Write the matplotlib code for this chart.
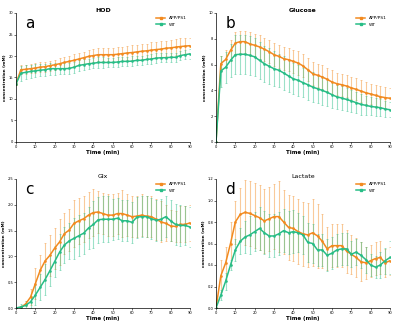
import matplotlib
matplotlib.use("Agg")
import matplotlib.pyplot as plt
import numpy as np

# time axis (min), one sample every 2.5 min
time_min = np.arange(0, 90.1, 2.5)

# HOD (mM)
hod_app = [13.5, 16.8, 16.9, 17.05, 17.2, 17.4, 17.5, 17.75, 17.95, 18.2, 18.5, 18.75,
           19.0, 19.3, 19.6, 19.9, 20.1, 20.3, 20.3, 20.3, 20.3, 20.4, 20.55, 20.7, 20.8,
           20.95, 21.1, 21.2, 21.35, 21.5, 21.6, 21.8, 21.9, 22.05, 22.2, 22.3, 22.4]
hod_app_err = [0.3, 1.0, 1.0, 1.1, 1.1, 1.1, 1.2, 1.2, 1.2, 1.3, 1.3, 1.3,
               1.4, 1.4, 1.4, 1.5, 1.5, 1.5, 1.5, 1.5, 1.6, 1.6, 1.6, 1.6, 1.7,
               1.7, 1.7, 1.7, 1.8, 1.8, 1.8, 1.8, 1.9, 1.9, 1.9, 1.9, 1.9]
hod_wt = [13.5, 16.0, 16.2, 16.4, 16.55, 16.7, 16.8, 17.05, 17.05, 17.05, 17.05, 17.1,
          17.4, 17.8, 18.0, 18.2, 18.3, 18.5, 18.5, 18.5, 18.5, 18.6, 18.75, 18.75, 18.8,
          19.0, 19.0, 19.2, 19.3, 19.5, 19.6, 19.6, 19.7, 19.7, 20.1, 20.3, 20.5]
hod_wt_err = [0.3, 1.7, 1.6, 1.5, 1.5, 1.4, 1.4, 1.4, 1.4, 1.3, 1.3, 1.3,
              1.3, 1.2, 1.2, 1.2, 1.2, 1.2, 1.2, 1.1, 1.1, 1.1, 1.1, 1.1, 1.1,
              1.1, 1.1, 1.1, 1.1, 1.1, 1.1, 1.1, 1.1, 1.1, 1.1, 1.1, 1.1]

# Glucose (mM)
glc_app = [0.0, 6.07, 6.4, 7.1, 7.67, 7.78, 7.78, 7.6, 7.5, 7.37, 7.2, 7.0, 6.77,
           6.64, 6.46, 6.38, 6.25, 6.12, 5.9, 5.6, 5.3, 5.17, 5.04, 4.86, 4.65, 4.52,
           4.44, 4.34, 4.2, 4.08, 3.95, 3.82, 3.72, 3.62, 3.51, 3.44, 3.39]
glc_app_err = [0.0, 0.6, 0.7, 0.8, 0.85, 0.85, 0.85, 0.9, 0.9, 0.9, 0.9, 0.9, 0.9,
               0.9, 0.9, 0.9, 0.9, 0.9, 0.9, 0.9, 0.9, 0.9, 0.9, 0.9, 0.9, 0.85,
               0.85, 0.85, 0.85, 0.85, 0.85, 0.85, 0.8, 0.8, 0.8, 0.8, 0.8]
glc_wt = [0.0, 5.5, 5.8, 6.33, 6.77, 6.8, 6.8, 6.72, 6.6, 6.33, 6.07, 5.87, 5.68,
          5.56, 5.35, 5.12, 4.9, 4.78, 4.6, 4.44, 4.26, 4.13, 4.0, 3.85, 3.67, 3.5,
          3.41, 3.3, 3.18, 3.05, 2.92, 2.84, 2.76, 2.71, 2.66, 2.56, 2.5]
glc_wt_err = [0.0, 1.2, 1.2, 1.3, 1.5, 1.5, 1.5, 1.5, 1.5, 1.45, 1.4, 1.4, 1.35,
              1.3, 1.3, 1.25, 1.2, 1.2, 1.15, 1.15, 1.15, 1.1, 1.1, 1.05, 1.0, 0.95,
              0.9, 0.9, 0.85, 0.8, 0.8, 0.75, 0.7, 0.7, 0.65, 0.65, 0.6]

# Glx (mM)
glx_app = [0.0, 0.01, 0.08, 0.21, 0.47, 0.73, 0.91, 1.02, 1.16, 1.28, 1.44, 1.51, 1.64,
           1.69, 1.73, 1.8, 1.85, 1.86, 1.83, 1.8, 1.8, 1.83, 1.83, 1.8, 1.77, 1.78,
           1.8, 1.78, 1.77, 1.72, 1.67, 1.64, 1.59, 1.58, 1.62, 1.62, 1.65]
glx_app_err = [0.0, 0.02, 0.05, 0.15, 0.3, 0.3, 0.35, 0.4, 0.4, 0.45, 0.4, 0.4, 0.45,
               0.45, 0.45, 0.45, 0.45, 0.4, 0.4, 0.4, 0.4, 0.4, 0.45, 0.4, 0.4, 0.4,
               0.4, 0.4, 0.4, 0.4, 0.4, 0.35, 0.3, 0.3, 0.35, 0.35, 0.35]
glx_wt = [0.0, 0.02, 0.05, 0.12, 0.25, 0.4, 0.55, 0.72, 0.9, 1.08, 1.22, 1.3, 1.35,
          1.4, 1.45, 1.55, 1.62, 1.71, 1.72, 1.72, 1.72, 1.74, 1.69, 1.69, 1.66, 1.76,
          1.77, 1.77, 1.73, 1.7, 1.72, 1.77, 1.69, 1.62, 1.6, 1.6, 1.57]
glx_wt_err = [0.0, 0.05, 0.08, 0.12, 0.2, 0.25, 0.3, 0.3, 0.3, 0.35, 0.35, 0.35, 0.4,
              0.4, 0.4, 0.4, 0.45, 0.45, 0.45, 0.45, 0.4, 0.4, 0.4, 0.4, 0.4, 0.4,
              0.4, 0.4, 0.4, 0.4, 0.4, 0.4, 0.4, 0.4, 0.4, 0.38, 0.38]

# Lactate (mM)
lac_app = [0.0, 0.3, 0.42, 0.6, 0.8, 0.87, 0.89, 0.88, 0.86, 0.84, 0.81, 0.83, 0.85,
           0.85, 0.8, 0.75, 0.74, 0.71, 0.69, 0.68, 0.7, 0.67, 0.62, 0.55, 0.58, 0.58,
           0.58, 0.53, 0.5, 0.47, 0.43, 0.42, 0.44, 0.46, 0.47, 0.42, 0.44]
lac_app_err = [0.0, 0.15, 0.15, 0.2, 0.2, 0.25, 0.3, 0.3, 0.3, 0.3, 0.3, 0.3, 0.3,
               0.33, 0.3, 0.3, 0.3, 0.3, 0.3, 0.3, 0.31, 0.3, 0.25, 0.2, 0.2, 0.2,
               0.2, 0.2, 0.18, 0.18, 0.18, 0.15, 0.15, 0.15, 0.15, 0.13, 0.13]
lac_wt = [0.0, 0.12, 0.25, 0.4, 0.54, 0.62, 0.66, 0.68, 0.71, 0.74, 0.7, 0.67, 0.67,
          0.69, 0.72, 0.7, 0.71, 0.7, 0.68, 0.61, 0.6, 0.54, 0.54, 0.49, 0.51, 0.54,
          0.55, 0.55, 0.5, 0.52, 0.49, 0.45, 0.4, 0.38, 0.4, 0.44, 0.47]
lac_wt_err = [0.0, 0.05, 0.08, 0.05, 0.1, 0.12, 0.15, 0.18, 0.18, 0.2, 0.2, 0.2, 0.2,
              0.2, 0.2, 0.2, 0.2, 0.18, 0.18, 0.18, 0.18, 0.15, 0.15, 0.15, 0.15, 0.15,
              0.15, 0.15, 0.12, 0.12, 0.12, 0.12, 0.1, 0.1, 0.12, 0.12, 0.15]

ORANGE = "#f28a1f"
GREEN = "#27bd86"

panels = [
    ("a", "HOD", "bold", hod_app, hod_app_err, hod_wt, hod_wt_err, (0, 30), np.arange(0, 31, 5)),
    ("b", "Glucose", "bold", glc_app, glc_app_err, glc_wt, glc_wt_err, (0, 10), np.arange(0, 11, 2)),
    ("c", "Glx", "normal", glx_app, glx_app_err, glx_wt, glx_wt_err, (0, 2.5), np.arange(0, 2.6, 0.5)),
    ("d", "Lactate", "normal", lac_app, lac_app_err, lac_wt, lac_wt_err, (0, 1.2), np.arange(0, 1.21, 0.2)),
]

# axes rectangles in figure pixels: left, top, right, bottom
boxes = [(16, 13, 190, 142), (216, 13, 390, 142), (16, 179, 190, 308), (216, 179, 390, 308)]

W, H = 400, 324
fig = plt.figure(figsize=(W / 100, H / 100), dpi=100)

for (letter, title, weight, app, app_err, wt, wt_err, ylim, yticks), (l, t, r, b) in zip(panels, boxes):
    ax = fig.add_axes([l / W, 1 - b / H, (r - l) / W, (b - t) / H])
    ax.errorbar(time_min, app, yerr=app_err, fmt="none", ecolor=ORANGE, alpha=0.45,
                elinewidth=0.8, capsize=1.0, capthick=0.6)
    ax.errorbar(time_min, wt, yerr=wt_err, fmt="none", ecolor=GREEN, alpha=0.45,
                elinewidth=0.8, capsize=1.0, capthick=0.6)
    ax.plot(time_min, app, color=ORANGE, lw=1.1, marker="s", ms=0.8, label="APP/PS1")
    ax.plot(time_min, wt, color=GREEN, lw=1.1, marker="s", ms=0.8, label="WT")

    ax.set_xlim(0, 90)
    ax.set_ylim(*ylim)
    ax.set_xticks(np.arange(0, 91, 10))
    ax.set_yticks(yticks)
    if letter in ("c", "d"):
        ax.set_yticklabels([f"{v:.1f}" for v in yticks])
    ax.tick_params(labelsize=2.6, length=1.2, width=0.4, pad=0.8)
    for side in ("top", "right"):
        ax.spines[side].set_visible(False)
    for side in ("left", "bottom"):
        ax.spines[side].set_linewidth(0.5)

    ax.set_xlabel("Time (min)", fontsize=4, fontweight="bold", labelpad=1)
    ax.set_ylabel("concentration (mM)", fontsize=3, fontweight="bold", labelpad=1)
    ax.set_title(title, fontsize=4.5, fontweight=weight, pad=1)
    ax.text(0.055, 0.98, letter, transform=ax.transAxes, fontsize=11, va="top", ha="left")
    ax.legend(loc="upper right", fontsize=3.2, frameon=False, handlelength=2.2,
              borderaxespad=0.3, labelspacing=0.6, markerscale=2)

fig.savefig("out.png", dpi=100)
